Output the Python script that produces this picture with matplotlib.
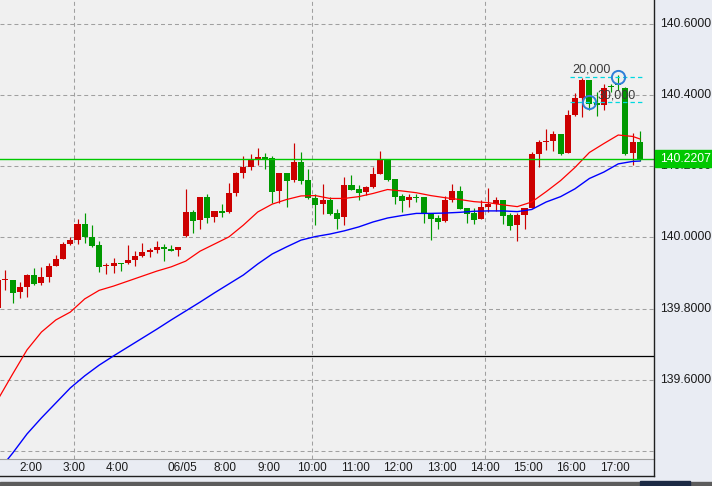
import matplotlib
matplotlib.use("Agg")
import matplotlib.pyplot as plt
import numpy as np
from matplotlib.lines import Line2D
from matplotlib.patches import Rectangle
from matplotlib.transforms import blended_transform_factory

# 10-minute candles, index -1 is the partly hidden bar at the left edge
bar_index = np.arange(-1, 89)

opens = [139.801, 139.879, 139.880, 139.847, 139.861, 139.894, 139.873, 139.889, 139.920, 139.939,
         139.982, 139.993, 140.037, 140.001, 139.978, 139.918, 139.920, 139.927, 139.929, 139.936,
         139.947, 139.959, 139.965, 139.973, 139.968, 139.965, 140.004, 140.071, 140.049, 140.113,
         140.057, 140.074, 140.071, 140.125, 140.181, 140.197, 140.220, 140.225, 140.222, 140.130,
         140.180, 140.161, 140.211, 140.161, 140.110, 140.093, 140.105, 140.068, 140.057, 140.147,
         140.136, 140.127, 140.141, 140.178, 140.220, 140.164, 140.116, 140.105, 140.113, 140.113,
         140.068, 140.054, 140.046, 140.105, 140.130, 140.082, 140.068, 140.051, 140.085, 140.093,
         140.105, 140.063, 140.034, 140.063, 140.082, 140.234, 140.267, 140.270, 140.290, 140.237,
         140.343, 140.391, 140.441, 140.377, 140.371, 140.425, 140.430, 140.419, 140.237, 140.267]
highs = [139.886, 139.908, 139.880, 139.874, 139.897, 139.914, 139.917, 139.928, 139.950, 139.987,
         140.001, 140.051, 140.068, 140.034, 139.990, 139.928, 139.942, 139.927, 139.978, 139.961,
         139.984, 139.970, 139.990, 139.981, 139.978, 139.973, 140.136, 140.077, 140.113, 140.121,
         140.074, 140.093, 140.152, 140.183, 140.228, 140.234, 140.251, 140.237, 140.228, 140.180,
         140.180, 140.265, 140.239, 140.192, 140.121, 140.150, 140.113, 140.079, 140.169, 140.175,
         140.147, 140.144, 140.197, 140.242, 140.220, 140.164, 140.121, 140.121, 140.121, 140.113,
         140.068, 140.063, 140.116, 140.150, 140.144, 140.082, 140.082, 140.105, 140.138, 140.113,
         140.105, 140.068, 140.068, 140.082, 140.239, 140.273, 140.304, 140.298, 140.290, 140.357,
         140.405, 140.447, 140.441, 140.408, 140.430, 140.430, 140.456, 140.422, 140.293, 140.298]
lows = [139.790, 139.852, 139.816, 139.830, 139.833, 139.867, 139.867, 139.875, 139.919, 139.938,
        139.979, 139.982, 139.983, 139.974, 139.903, 139.897, 139.900, 139.906, 139.925, 139.919,
        139.944, 139.945, 139.955, 139.934, 139.962, 139.947, 140.000, 140.012, 140.023, 140.040,
        140.043, 140.057, 140.068, 140.116, 140.166, 140.189, 140.203, 140.192, 140.096, 140.096,
        140.085, 140.155, 140.150, 140.107, 140.034, 140.065, 140.063, 140.023, 140.034, 140.133,
        140.105, 140.119, 140.138, 140.178, 140.158, 140.093, 140.071, 140.085, 140.099, 140.040,
        139.992, 140.023, 140.043, 140.099, 140.079, 140.040, 140.037, 140.051, 140.071, 140.074,
        140.037, 140.020, 139.990, 140.023, 140.082, 140.197, 140.245, 140.242, 140.231, 140.237,
        140.340, 140.338, 140.357, 140.340, 140.357, 140.408, 140.413, 140.231, 140.203, 140.214]
closes = [139.880, 139.881, 139.844, 139.860, 139.894, 139.870, 139.889, 139.919, 139.939, 139.981,
          139.992, 140.037, 140.000, 139.976, 139.917, 139.921, 139.929, 139.925, 139.936, 139.947,
          139.958, 139.965, 139.973, 139.966, 139.962, 139.973, 140.071, 140.047, 140.113, 140.054,
          140.074, 140.068, 140.124, 140.180, 140.197, 140.220, 140.225, 140.220, 140.127, 140.180,
          140.158, 140.211, 140.158, 140.110, 140.091, 140.105, 140.065, 140.051, 140.147, 140.133,
          140.124, 140.141, 140.178, 140.220, 140.161, 140.113, 140.102, 140.113, 140.110, 140.068,
          140.051, 140.043, 140.105, 140.130, 140.079, 140.065, 140.049, 140.085, 140.093, 140.105,
          140.060, 140.032, 140.063, 140.082, 140.234, 140.267, 140.270, 140.290, 140.234, 140.343,
          140.391, 140.441, 140.374, 140.371, 140.419, 140.422, 140.427, 140.234, 140.267, 140.2207]

# moving averages, read every second bar
ma_index = list(range(-1, 88, 2)) + [88]
ma_fast = [139.546, 139.616, 139.684, 139.734, 139.768, 139.790, 139.827, 139.851, 139.863, 139.877,
           139.891, 139.905, 139.917, 139.933, 139.961, 139.981, 140.001, 140.034, 140.071, 140.093,
           140.106, 140.116, 140.117, 140.109, 140.109, 140.114, 140.123, 140.134, 140.130, 140.125,
           140.117, 140.111, 140.106, 140.100, 140.097, 140.091, 140.086, 140.099, 140.128, 140.159,
           140.196, 140.238, 140.263, 140.287, 140.283, 140.276]
ma_slow = [139.344, 139.394, 139.448, 139.493, 139.535, 139.577, 139.611, 139.641, 139.667, 139.692,
           139.717, 139.742, 139.768, 139.793, 139.818, 139.844, 139.869, 139.894, 139.925, 139.953,
           139.973, 139.992, 140.002, 140.009, 140.018, 140.029, 140.043, 140.054, 140.061, 140.067,
           140.067, 140.068, 140.070, 140.073, 140.074, 140.074, 140.072, 140.078, 140.099, 140.114,
           140.136, 140.165, 140.183, 140.206, 140.213, 140.214]

# time axis labels (bar index where the label sits)
time_pos = [-2, 4, 10, 16, 25, 31, 37, 43, 49, 55, 61, 67, 73, 79, 85]
time_labels = ["1:00", "2:00", "3:00", "4:00", "06/05", "8:00", "9:00", "10:00", "11:00",
               "12:00", "13:00", "14:00", "15:00", "16:00", "17:00"]
vgrid_pos = [10, 43, 67]

price_ticks = [140.6, 140.4, 140.2, 140.0, 139.8, 139.6]
grid_prices = price_ticks + [139.4]

last_price = 140.2207
level_line = 139.667
order_index = [85, 81]
order_price = [140.451, 140.379]
order_label = ["20,000", "30,000"]
order_text_pos = [(78.6, 140.455), (82.2, 140.382)]

FONT = "Liberation Sans"
RED = "#cc0000"
GREEN = "#009900"
GRID = "#a0a0a0"

fig = plt.figure(figsize=(7.12, 4.86), dpi=100, facecolor="#e9ecf3")
ax = fig.add_axes([0, 27 / 486, 654 / 712, 459 / 486])
ax.set_facecolor("#f0f0f0")
ax.set_xlim(-0.75, 89.96)
ax.set_ylim(139.3776, 140.666)
ax.set_xticks([])
ax.set_yticks([])
for name, sp in ax.spines.items():
    sp.set_visible(name == "bottom")
ax.spines["bottom"].set_color(GRID)
ax.spines["bottom"].set_linewidth(0.8)

for p in grid_prices:
    ax.axhline(p, color=GRID, lw=0.75, ls=(0, (3.8, 2.9)), zorder=0)
for g in vgrid_pos:
    ax.axvline(g - 0.5, color=GRID, lw=0.75, ls=(0, (3.8, 2.9)), zorder=0)

# candles: red = up, green = down
for i, o, h, l, c in zip(bar_index, opens, highs, lows, closes):
    col = RED if c >= o else GREEN
    ax.vlines(i, l, h, color=col, lw=0.85, zorder=3)
    ax.bar(i, max(abs(c - o), 0.0026), bottom=min(o, c), width=0.84,
           color=col, linewidth=0, zorder=4)

ax.plot(ma_index, ma_fast, color="#ff0000", lw=0.9, zorder=5)
ax.plot(ma_index, ma_slow, color="#0000ff", lw=1.0, zorder=5)

ax.axhline(last_price, color="#00c800", lw=1.0, zorder=6)
ax.axhline(level_line, color="black", lw=0.9, zorder=2)

# order lines + markers
for i, p, lab, (tx, ty) in zip(order_index, order_price, order_label, order_text_pos):
    ax.hlines(p, 78.3, 88.4, color="#00d8e0", lw=0.9, ls=(0, (3.5, 2.5)), zorder=6)
    ax.plot(i, p, "o", ms=9.5, mfc="none", mec="#2f7fd8", mew=1.4, zorder=8)
    ax.text(tx, ty, lab, fontsize=9, family=FONT, color="#3a3a3a", va="bottom", zorder=9)

# price scale on the right
ytr = blended_transform_factory(ax.transAxes, ax.transData)
for p in price_ticks:
    ax.text(660 / 654, p, f"{p:.4f}", transform=ytr, fontsize=8.7, family=FONT,
            color="#1a1a1a", ha="left", va="center", clip_on=False)
ftr = blended_transform_factory(fig.transFigure, ax.transData)
box = Rectangle((655 / 712, 140.197), 57 / 712, 0.048, transform=ftr,
                color="#00c800", zorder=10, clip_on=False)
fig.add_artist(box)
fig.text(660 / 712, last_price, f"{last_price:.4f}", transform=ftr, fontsize=8.7,
         family=FONT, color="white", ha="left", va="center", zorder=11)

# time labels
xtr = blended_transform_factory(ax.transData, ax.transAxes)
for pos, lab in zip(time_pos, time_labels):
    ax.text(pos - 0.5, -9 / 459, lab, transform=xtr, fontsize=8.5, family=FONT,
            color="#1a1a1a", ha="center", va="center", clip_on=False)

# window frame and task bar
fig.add_artist(Line2D([654 / 712, 654 / 712], [10 / 486, 1], color="#202020", lw=1.0,
                      transform=fig.transFigure))
fig.add_artist(Line2D([0, 654 / 712], [10 / 486, 10 / 486], color="#202020", lw=1.0,
                      transform=fig.transFigure))
fig.add_artist(Rectangle((0, 0), 1, 4 / 486, transform=fig.transFigure, color="#5c5c5c"))
fig.add_artist(Rectangle((640 / 712, 0), 50 / 712, 5 / 486, transform=fig.transFigure,
                         color="#1c2a44"))

fig.savefig("out.png", dpi=100, facecolor=fig.get_facecolor())
